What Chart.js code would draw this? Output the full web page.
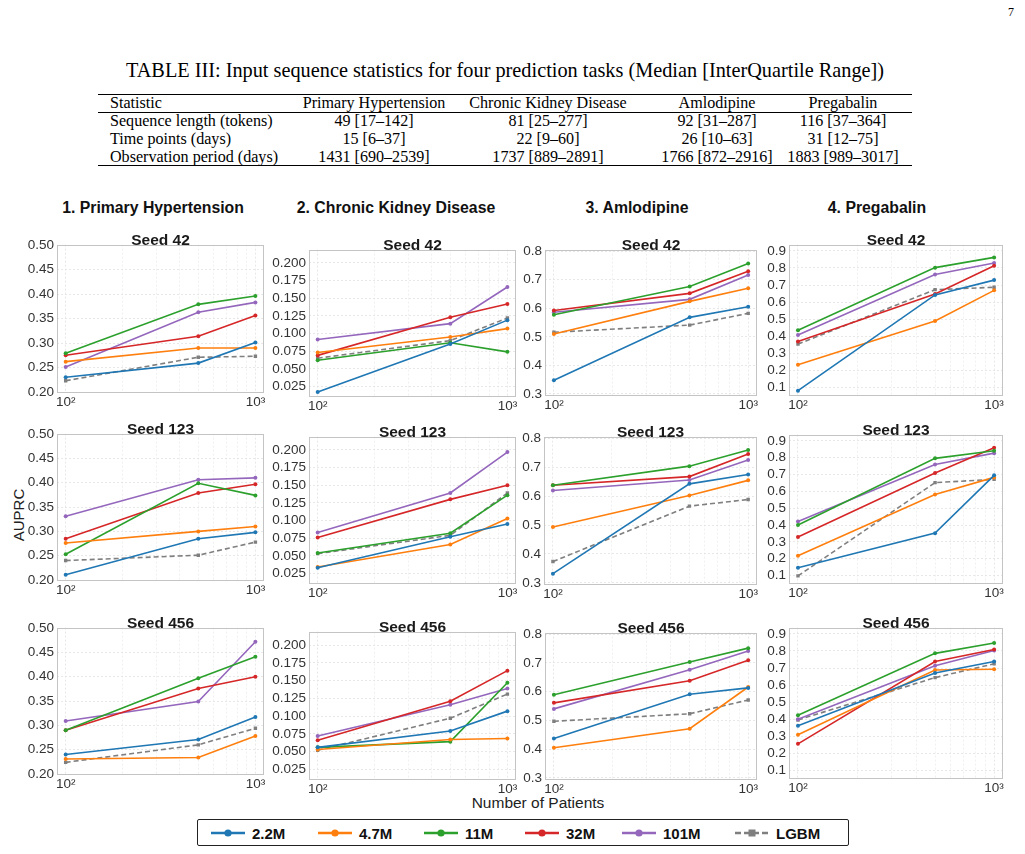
<!DOCTYPE html>
<html><head><meta charset="utf-8">
<script src="https://cdn.jsdelivr.net/npm/chart.js@4.4.0/dist/chart.umd.min.js"></script>
<style>
html,body{margin:0;padding:0;background:#fff;}
body{width:1025px;height:854px;position:relative;overflow:hidden;font-family:"Liberation Sans",Arial,sans-serif;color:#000;}
.abs{position:absolute;white-space:nowrap;}
.serif{font-family:"Liberation Serif","Times New Roman",serif;color:#000;}
.rule{position:absolute;background:#000;left:98px;width:814px;}
canvas{position:absolute;}
.colhead{font-weight:bold;font-size:15.8px;color:#111;transform:translate(-50%,-50%);}
.leg{font-weight:bold;font-size:15px;color:#111;transform:translateY(-50%);}
</style>
</head><body>
<div id="root"></div>
<script>
// ---------------- data ----------------
const patients = [100, 500, 1000];
const seriesNames = ['2.2M', '4.7M', '11M', '32M', '101M', 'LGBM'];
const seriesColors = ['#1f77b4', '#ff7f0e', '#2ca02c', '#d62728', '#9467bd', '#7f7f7f'];
const taskTitles = ['1. Primary Hypertension', '2. Chronic Kidney Disease', '3. Amlodipine', '4. Pregabalin'];
const seedLabels = ['Seed 42', 'Seed 123', 'Seed 456'];

// AUPRC, one row per series (2.2M, 4.7M, 11M, 32M, 101M, LGBM)
const ph42 = [[0.230,0.259,0.301],[0.262,0.290,0.290],[0.279,0.379,0.396],[0.275,0.314,0.356],[0.251,0.363,0.383],[0.223,0.271,0.273]];
const ph123 = [[0.211,0.285,0.298],[0.276,0.300,0.310],[0.253,0.399,0.374],[0.285,0.379,0.397],[0.331,0.406,0.410],[0.240,0.251,0.278]];
const ph456 = [[0.240,0.271,0.317],[0.231,0.234,0.278],[0.290,0.397,0.441],[0.290,0.376,0.400],[0.309,0.349,0.472],[0.224,0.260,0.294]];
const ckd42 = [[0.017,0.085,0.119],[0.073,0.095,0.107],[0.062,0.087,0.074],[0.069,0.123,0.142],[0.0915,0.114,0.166],[0.065,0.090,0.122]];
const ckd123 = [[0.033,0.077,0.095],[0.034,0.066,0.103],[0.054,0.082,0.136],[0.076,0.130,0.150],[0.083,0.139,0.197],[0.053,0.079,0.139]];
const ckd456 = [[0.056,0.079,0.107],[0.053,0.067,0.0685],[0.056,0.064,0.147],[0.066,0.121,0.164],[0.072,0.116,0.139],[0.052,0.097,0.131]];
const aml42 = [[0.348,0.568,0.605],[0.510,0.624,0.670],[0.577,0.676,0.756],[0.592,0.652,0.729],[0.586,0.631,0.716],[0.516,0.541,0.582]];
const aml123 = [[0.332,0.642,0.674],[0.493,0.602,0.654],[0.637,0.703,0.759],[0.637,0.667,0.745],[0.619,0.655,0.724],[0.374,0.565,0.588]];
const aml456 = [[0.437,0.591,0.613],[0.405,0.471,0.616],[0.589,0.703,0.751],[0.561,0.638,0.709],[0.540,0.676,0.741],[0.497,0.523,0.571]];
const preg42 = [[0.081,0.642,0.729],[0.233,0.490,0.669],[0.435,0.802,0.862],[0.369,0.648,0.813],[0.408,0.762,0.829],[0.354,0.673,0.687]];
const preg123 = [[0.147,0.352,0.695],[0.218,0.581,0.683],[0.400,0.796,0.841],[0.329,0.709,0.859],[0.421,0.760,0.827],[0.098,0.652,0.671]];
const preg456 = [[0.362,0.671,0.738],[0.309,0.689,0.693],[0.423,0.786,0.847],[0.256,0.738,0.809],[0.400,0.713,0.803],[0.396,0.644,0.725]];

// tick values
const xTickValues = [100,200,300,400,500,600,700,800,900,1000];
const phTicks = [0.20,0.25,0.30,0.35,0.40,0.45,0.50];
const ckdTicks = [0.025,0.050,0.075,0.100,0.125,0.150,0.175,0.200];
const amlTicks = [0.3,0.4,0.5,0.6,0.7,0.8];
const pregTicks = [0.1,0.2,0.3,0.4,0.5,0.6,0.7,0.8,0.9];

// table text
const tableCaption = 'TABLE III: Input sequence statistics for four prediction tasks (Median [InterQuartile Range])';
const tableHeader = ['Statistic', 'Primary Hypertension', 'Chronic Kidney Disease', 'Amlodipine', 'Pregabalin'];
const tableRow1 = ['Sequence length (tokens)', '49 [17–142]', '81 [25–277]', '92 [31–287]', '116 [37–364]'];
const tableRow2 = ['Time points (days)', '15 [6–37]', '22 [9–60]', '26 [10–63]', '31 [12–75]'];
const tableRow3 = ['Observation period (days)', '1431 [690–2539]', '1737 [889–2891]', '1766 [872–2916]', '1883 [989–3017]'];

// ---------------- layout ----------------
const root = document.getElementById('root');
function addDiv(cls, text, style) {
  const d = document.createElement('div');
  d.className = 'abs ' + cls;
  d.textContent = text;
  Object.assign(d.style, style);
  root.appendChild(d);
  return d;
}

// page number
addDiv('serif', '7', {left:'1008px', top:'5px', fontSize:'12px'});
// caption
addDiv('serif', tableCaption, {left:'505px', top:'70px', fontSize:'20.3px', transform:'translate(-50%,-50%)'});
// rules
[[94,1.3],[112,0.8],[165,1.3]].forEach(([y,h]) => {
  const r = document.createElement('div'); r.className = 'rule';
  r.style.top = y + 'px'; r.style.height = h + 'px'; root.appendChild(r);
});
const colCenters = [null, 374, 548, 717, 843];
[[tableHeader,103],[tableRow1,121],[tableRow2,139],[tableRow3,157]].forEach(([row,y]) => {
  row.forEach((t, i) => {
    if (i === 0) addDiv('serif', t, {left:'110px', top:y+'px', fontSize:'16.1px', transform:'translateY(-50%)'});
    else addDiv('serif', t, {left:colCenters[i]+'px', top:y+'px', fontSize:'16.1px', transform:'translate(-50%,-50%)'});
  });
});

// column headers
const headCenters = [153, 396, 637, 877];
taskTitles.forEach((t, i) => addDiv('colhead', t, {left:headCenters[i]+'px', top:'208px'}));

// axis labels
addDiv('', 'AUPRC', {left:'18px', top:'515px', fontSize:'15px', color:'#222', transform:'translate(-50%,-50%) rotate(-90deg)'});
addDiv('', 'Number of Patients', {left:'538px', top:'803px', fontSize:'15.5px', color:'#222', transform:'translate(-50%,-50%)'});

// legend
const legBox = document.createElement('div');
Object.assign(legBox.style, {position:'absolute', left:'197px', top:'819px', width:'652px', height:'27px', border:'1px solid #222', borderRadius:'2px', boxSizing:'border-box'});
root.appendChild(legBox);
const legLineX = [211, 318, 424, 525, 622, 735];
seriesNames.forEach((name, i) => {
  const svgNS = 'http://www.w3.org/2000/svg';
  const svg = document.createElementNS(svgNS, 'svg');
  svg.setAttribute('width', '34'); svg.setAttribute('height', '10');
  Object.assign(svg.style, {position:'absolute', left:legLineX[i]+'px', top:'828px'});
  const ln = document.createElementNS(svgNS, 'line');
  ln.setAttribute('x1','0'); ln.setAttribute('x2','34'); ln.setAttribute('y1','5'); ln.setAttribute('y2','5');
  ln.setAttribute('stroke', seriesColors[i]); ln.setAttribute('stroke-width','2.5');
  if (name === 'LGBM') ln.setAttribute('stroke-dasharray','6,3');
  svg.appendChild(ln);
  let mk;
  if (name === 'LGBM') {
    mk = document.createElementNS(svgNS, 'rect');
    mk.setAttribute('x','13.5'); mk.setAttribute('y','1.5'); mk.setAttribute('width','7'); mk.setAttribute('height','7');
  } else {
    mk = document.createElementNS(svgNS, 'circle');
    mk.setAttribute('cx','17'); mk.setAttribute('cy','5'); mk.setAttribute('r','3.6');
  }
  mk.setAttribute('fill', seriesColors[i]);
  svg.appendChild(mk);
  root.appendChild(svg);
  addDiv('leg', name, {left:(legLineX[i]+41)+'px', top:'833px'});
});

// ---------------- charts ----------------
Chart.defaults.font.family = "'Liberation Sans', Arial, sans-serif";

const frames = [
  [[57,244,264,393],[309,249,516,397],[545,249,757,396],[789,244,1003,396]],
  [[57,433,264,581],[309,436,516,584],[544,436,757,585],[789,434,1003,584]],
  [[57,627,264,775],[309,631,516,780],[545,632,757,780],[789,627,1003,779]]
];
const gridData = [
  [ph42, ckd42, aml42, preg42],
  [ph123, ckd123, aml123, preg123],
  [ph456, ckd456, aml456, preg456]
];
const yCfgs = [
  {min:0.198, max:0.501, ticks:phTicks, dec:2},
  {min:0.010, max:0.219, ticks:ckdTicks, dec:3},
  {min:0.293, max:0.805, ticks:amlTicks, dec:1},
  {min:0.050, max:0.937, ticks:pregTicks, dec:1}
];

const AXW = 48, AXH = 18, TITLEH = 13, PADR = 12;

const framePlugin = {
  id: 'frameBox',
  beforeDatasetsDraw(chart) {
    const a = chart.chartArea, c = chart.ctx;
    c.save();
    c.strokeStyle = '#c4c4c4'; c.lineWidth = 1;
    c.strokeRect(Math.round(a.left)+0.5, Math.round(a.top)+0.5, Math.round(a.right-a.left)-1, Math.round(a.bottom-a.top)-1);
    c.restore();
  }
};

gridData.forEach((row, r) => {
  row.forEach((series, c) => {
    const [l, t, rr, b] = frames[r][c];
    const cv = document.createElement('canvas');
    const W = (rr - l) + AXW + PADR, H = (b - t) + TITLEH + AXH;
    cv.width = W; cv.height = H;
    cv.style.left = (l - AXW) + 'px'; cv.style.top = (t - TITLEH) + 'px';
    cv.style.width = W + 'px'; cv.style.height = H + 'px';
    root.appendChild(cv);
    const yc = yCfgs[c];
    const datasets = series.map((vals, k) => ({
      label: seriesNames[k],
      data: vals.map((v, i) => ({x: patients[i], y: v})),
      borderColor: seriesColors[k],
      backgroundColor: seriesColors[k],
      borderWidth: 1.6,
      borderDash: seriesNames[k] === 'LGBM' ? [5, 3] : [],
      pointStyle: seriesNames[k] === 'LGBM' ? 'rect' : 'circle',
      pointRadius: seriesNames[k] === 'LGBM' ? 2.4 : 2.0,
      pointBorderWidth: 0,
      tension: 0
    }));
    new Chart(cv, {
      type: 'line',
      data: {datasets},
      plugins: [framePlugin],
      options: {
        responsive: false, animation: false, devicePixelRatio: 1,
        layout: {padding: {left: 0, right: PADR, top: 0, bottom: 0}},
        plugins: {
          legend: {display: false}, tooltip: {enabled: false},
          title: {display: true, text: seedLabels[r], fullSize: false, color: '#1a1a1a',
                  font: {size: 15.5, weight: 'bold'}, padding: {top: 0, bottom: -5}}
        },
        scales: {
          x: {
            type: 'logarithmic', min: 90, max: 1110,
            afterBuildTicks: s => { s.ticks = xTickValues.map(v => ({value: v})); },
            afterFit: s => { s.height = AXH; },
            ticks: {autoSkip: false, maxRotation: 0, minRotation: 0, padding: 1, color: '#333', font: {size: 13.5},
                    callback: v => v === 100 ? '10²' : (v === 1000 ? '10³' : '')},
            grid: {drawTicks: false, lineWidth: 0.8,
                   color: ctx => (ctx.tick && (ctx.tick.value === 100 || ctx.tick.value === 1000)) ? '#e2e2e2' : '#ededed'},
            border: {display: false, dash: [2, 2]}
          },
          y: {
            type: 'linear', min: yc.min, max: yc.max,
            afterBuildTicks: s => { s.ticks = yc.ticks.map(v => ({value: v})); },
            afterFit: s => { s.width = AXW; },
            ticks: {autoSkip: false, padding: 3, color: '#333', font: {size: 13.5}, callback: v => Number(v).toFixed(yc.dec)},
            grid: {drawTicks: false, lineWidth: 0.8, color: '#e2e2e2'},
            border: {display: false, dash: [2, 2]}
          }
        }
      }
    });
  });
});
</script>
</body></html>
